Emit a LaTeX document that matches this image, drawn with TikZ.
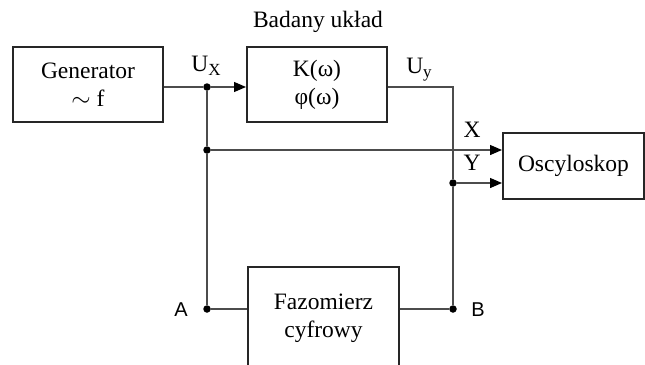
\documentclass[tikz,border=0pt]{standalone}
\usepackage{fontspec}
\setmainfont{Liberation Serif}
\newfontfamily\sansf{Liberation Sans}
\usetikzlibrary{arrows.meta}
\begin{document}
\begin{tikzpicture}[x=1pt,y=-1pt,
  blk/.style={draw=black!85,line width=2pt,inner sep=0pt,align=center,
    font=\fontsize{23.5}{28}\selectfont},
  wire/.style={draw=black!70,line width=1.3pt},
  arr/.style={wire,-{Triangle[length=12pt,width=10pt,color=black]}},
  lbl/.style={font=\fontsize{23.5}{28}\selectfont,inner sep=0pt},
  slbl/.style={font=\sansf\fontsize{20}{24}\selectfont,inner sep=0pt},
  dot/.style={circle,fill=black,inner sep=0pt,minimum size=7.5pt}]
\useasboundingbox (0,0) rectangle (645,364);
\fill[white] (0,0) rectangle (645,364);
\node[blk,minimum width=150pt,minimum height=75pt] (gen) at (88,84.5) {Generator\\$\sim$\ f};
\node[blk,minimum width=140pt,minimum height=75pt] (k) at (317,84.5) {K(ω)\\φ(ω)};
\node[lbl] (bad) at (318,22) {Badany układ};
\node[blk,minimum width=141pt,minimum height=66pt] (osc) at (573.5,166) {Oscyloskop};
\node[blk,minimum width=151pt,minimum height=102pt] (faz) at (323.5,318) {Fazomierz\\cyfrowy};
\node[dot] (j1) at (207,87) {};
\node[dot] (j2) at (207,150) {};
\node[dot] (a) at (207,309) {};
\node[dot] (j3) at (453,183) {};
\node[dot] (b) at (453,309) {};
\coordinate (c1) at (453,87);
\node[lbl] (ux) at (206,66) {U{\fontsize{17}{20}\selectfont\raisebox{-4pt}{X}}};
\node[lbl] (uy) at (419,70) {U{\fontsize{17}{20}\selectfont\raisebox{-4pt}{y}}};
\node[lbl] (xl) at (472,130) {X};
\node[lbl] (yl) at (472,163) {Y};
\node[slbl] (al) at (181,310) {A};
\node[slbl] (bl) at (478,310) {B};
\draw[wire] (gen.east |- j1) -- (j1);
\draw[arr] (j1) -- (k.west |- j1);
\draw[wire] (j1) -- (j2) -- (a);
\draw[arr] (j2) -- (osc.west |- j2);
\draw[wire] (k.east |- c1) -- (c1) -- (j3) -- (b);
\draw[arr] (j3) -- (osc.west |- j3);
\draw[wire] (a) -- (faz.west |- a);
\draw[wire] (faz.east |- b) -- (b);
\end{tikzpicture}
\end{document}
